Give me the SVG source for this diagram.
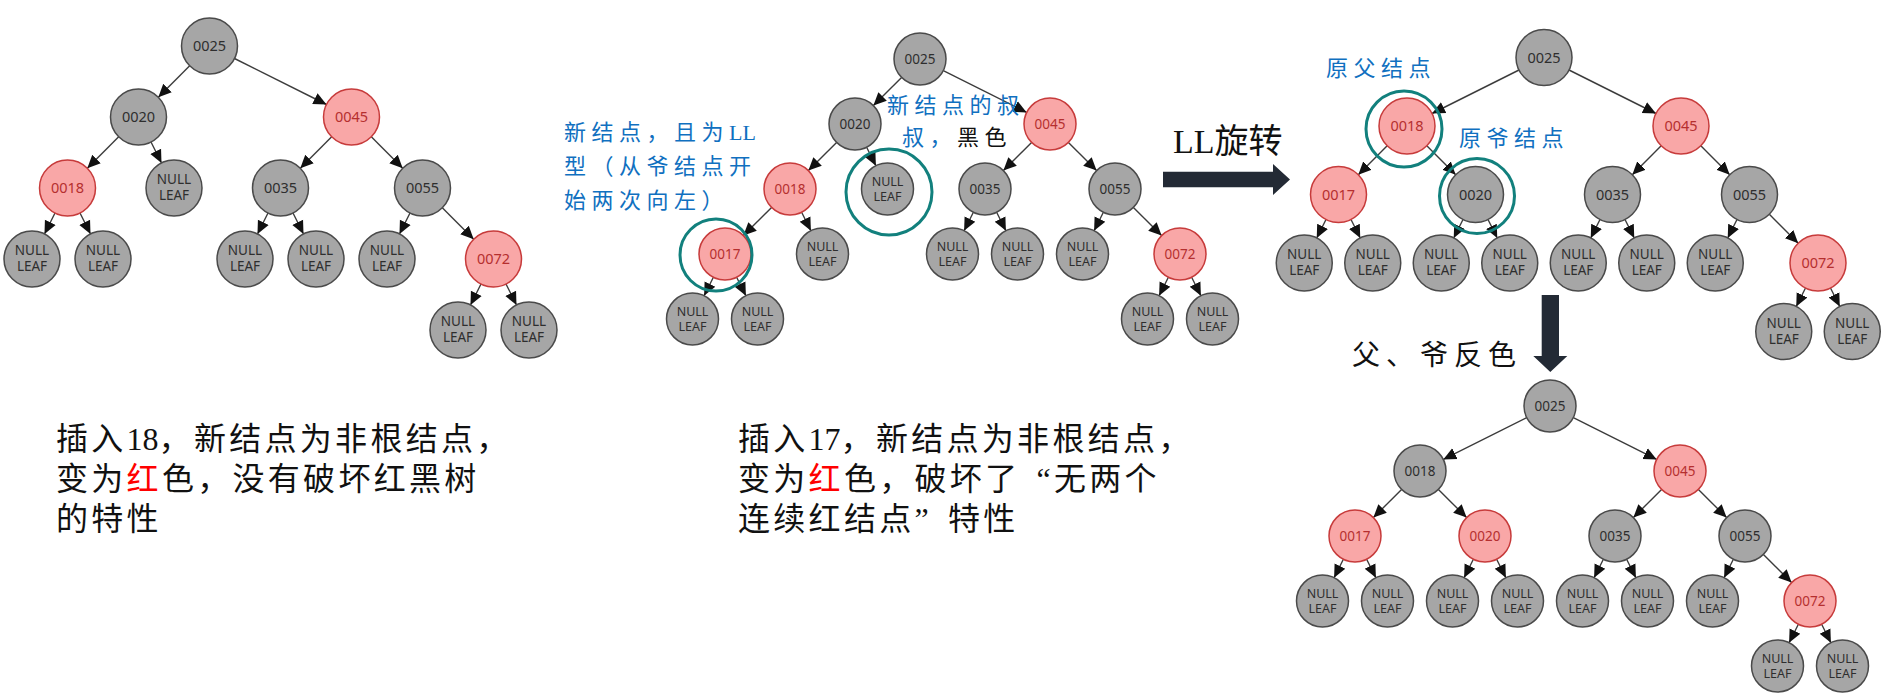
<svg xmlns="http://www.w3.org/2000/svg" width="1890" height="700" viewBox="0 0 1890 700">
<defs>
<style>
.edges line{stroke:#3c3c3c;stroke-width:1.4;marker-end:url(#ah)}
.nd circle{stroke-width:1.5}
.g circle{fill:#a6a6a6;stroke:#4a4a4a}
.r circle{fill:#f9a7a7;stroke:#c73b3b}
.nd text{font-family:"Noto Sans","DejaVu Sans",sans-serif;text-anchor:middle}
.g text{fill:#2e2e2e}
.r text{fill:#b52f2f}
.ta text{font-size:14.5px}
.ta text.lf{font-size:13.5px}
.tb text{font-size:13.5px}
.tb text.lf{font-size:12.5px}
.ring{fill:none;stroke:#12807d;stroke-width:3}
.ann{font-family:"Liberation Serif","Noto Sans CJK SC",serif;font-size:22px;letter-spacing:5.5px}
.blue{fill:#1070c0}
.body{font-family:"Liberation Serif","Noto Sans CJK SC",serif;font-size:32px;fill:#111}
.sp{letter-spacing:3.3px}
.bigarrow{fill:#232a35}
</style>
<marker id="ah" markerUnits="userSpaceOnUse" markerWidth="14" markerHeight="14" viewBox="0 0 14 14" refX="13" refY="7" orient="auto">
<path d="M0,1 L13,7 L0,13 z" fill="#111"/>
</marker>
</defs>
<rect width="1890" height="700" fill="#ffffff"/>

<g id="connectors" class="edges">
<!-- tree 1 -->
<line x1="189.7" y1="65.8" x2="158.3" y2="97.2"/>
<line x1="234.5" y1="58.5" x2="326.5" y2="104.5"/>
<line x1="118.7" y1="136.8" x2="87.3" y2="168.2"/>
<line x1="151" y1="142" x2="161.5" y2="163"/>
<line x1="331.7" y1="136.8" x2="300.3" y2="168.2"/>
<line x1="371.3" y1="136.8" x2="402.7" y2="168.2"/>
<line x1="55" y1="213" x2="44.5" y2="234"/>
<line x1="80" y1="213" x2="90.5" y2="234"/>
<line x1="268" y1="213" x2="257.5" y2="234"/>
<line x1="293" y1="213" x2="303.5" y2="234"/>
<line x1="410" y1="213" x2="399.5" y2="234"/>
<line x1="442.3" y1="207.8" x2="473.7" y2="239.2"/>
<line x1="481" y1="284" x2="470.5" y2="305"/>
<line x1="506" y1="284" x2="516.5" y2="305"/>
<!-- tree 2 -->
<line x1="901.6" y1="77.4" x2="873.4" y2="105.6"/>
<line x1="943.3" y1="70.6" x2="1026.7" y2="112.4"/>
<line x1="836.6" y1="142.4" x2="808.4" y2="170.6"/>
<line x1="866.6" y1="147.3" x2="875.9" y2="165.7"/>
<line x1="1031.6" y1="142.4" x2="1003.4" y2="170.6"/>
<line x1="1068.4" y1="142.4" x2="1096.6" y2="170.6"/>
<line x1="771.6" y1="207.4" x2="743.4" y2="235.6"/>
<line x1="801.6" y1="212.3" x2="810.9" y2="230.7"/>
<line x1="973.4" y1="212.3" x2="964.1" y2="230.7"/>
<line x1="996.6" y1="212.3" x2="1005.9" y2="230.7"/>
<line x1="1103.4" y1="212.3" x2="1094.1" y2="230.7"/>
<line x1="1133.4" y1="207.4" x2="1161.6" y2="235.6"/>
<line x1="713.4" y1="277.3" x2="704.1" y2="295.7"/>
<line x1="736.6" y1="277.3" x2="745.9" y2="295.7"/>
<line x1="1168.4" y1="277.3" x2="1159.1" y2="295.7"/>
<line x1="1191.6" y1="277.3" x2="1200.9" y2="295.7"/>
<!-- tree 3 -->
<line x1="1519" y1="70" x2="1432" y2="113.5"/>
<line x1="1569" y1="70" x2="1656" y2="113.5"/>
<line x1="1387.2" y1="145.8" x2="1358.3" y2="174.7"/>
<line x1="1426.8" y1="145.8" x2="1455.7" y2="174.7"/>
<line x1="1661.2" y1="145.8" x2="1632.3" y2="174.7"/>
<line x1="1700.8" y1="145.8" x2="1729.7" y2="174.7"/>
<line x1="1326" y1="219.5" x2="1316.75" y2="238"/>
<line x1="1351" y1="219.5" x2="1360.25" y2="238"/>
<line x1="1463" y1="219.5" x2="1453.75" y2="238"/>
<line x1="1488" y1="219.5" x2="1497.25" y2="238"/>
<line x1="1600" y1="219.5" x2="1590.75" y2="238"/>
<line x1="1625" y1="219.5" x2="1634.25" y2="238"/>
<line x1="1737" y1="219.5" x2="1727.75" y2="238"/>
<line x1="1769.3" y1="214.3" x2="1798.2" y2="243.2"/>
<line x1="1805.5" y1="288" x2="1796.25" y2="306.5"/>
<line x1="1830.5" y1="288" x2="1839.75" y2="306.5"/>
<!-- tree 4 -->
<line x1="1526.7" y1="417.6" x2="1443.3" y2="459.4"/>
<line x1="1573.3" y1="417.6" x2="1656.7" y2="459.4"/>
<line x1="1401.6" y1="489.4" x2="1373.4" y2="517.6"/>
<line x1="1438.4" y1="489.4" x2="1466.6" y2="517.6"/>
<line x1="1661.6" y1="489.4" x2="1633.4" y2="517.6"/>
<line x1="1698.4" y1="489.4" x2="1726.6" y2="517.6"/>
<line x1="1343.4" y1="559.3" x2="1334.1" y2="577.7"/>
<line x1="1366.6" y1="559.3" x2="1375.9" y2="577.7"/>
<line x1="1473.4" y1="559.3" x2="1464.1" y2="577.7"/>
<line x1="1496.6" y1="559.3" x2="1505.9" y2="577.7"/>
<line x1="1603.4" y1="559.3" x2="1594.1" y2="577.7"/>
<line x1="1626.6" y1="559.3" x2="1635.9" y2="577.7"/>
<line x1="1733.4" y1="559.3" x2="1724.1" y2="577.7"/>
<line x1="1763.4" y1="554.4" x2="1791.6" y2="582.6"/>
<line x1="1798.4" y1="624.3" x2="1789.1" y2="642.7"/>
<line x1="1821.6" y1="624.3" x2="1830.9" y2="642.7"/>
</g>

<g id="tree1" class="ta">
<g id="t1-0025" class="nd g"><circle cx="209.5" cy="46" r="28"/><text x="209.5" y="51">0025</text></g>
<g id="t1-0020" class="nd g"><circle cx="138.5" cy="117" r="28"/><text x="138.5" y="122">0020</text></g>
<g id="t1-0045" class="nd r"><circle cx="351.5" cy="117" r="28"/><text x="351.5" y="122">0045</text></g>
<g id="t1-0018" class="nd r"><circle cx="67.5" cy="188" r="28"/><text x="67.5" y="193">0018</text></g>
<g id="t1-leaf1" class="nd g"><circle cx="174" cy="188" r="28"/><text class="lf"><tspan x="174" y="184">NULL</tspan><tspan x="174" y="200">LEAF</tspan></text></g>
<g id="t1-0035" class="nd g"><circle cx="280.5" cy="188" r="28"/><text x="280.5" y="193">0035</text></g>
<g id="t1-0055" class="nd g"><circle cx="422.5" cy="188" r="28"/><text x="422.5" y="193">0055</text></g>
<g id="t1-leaf2" class="nd g"><circle cx="32" cy="259" r="28"/><text class="lf"><tspan x="32" y="255">NULL</tspan><tspan x="32" y="271">LEAF</tspan></text></g>
<g id="t1-leaf3" class="nd g"><circle cx="103" cy="259" r="28"/><text class="lf"><tspan x="103" y="255">NULL</tspan><tspan x="103" y="271">LEAF</tspan></text></g>
<g id="t1-leaf4" class="nd g"><circle cx="245" cy="259" r="28"/><text class="lf"><tspan x="245" y="255">NULL</tspan><tspan x="245" y="271">LEAF</tspan></text></g>
<g id="t1-leaf5" class="nd g"><circle cx="316" cy="259" r="28"/><text class="lf"><tspan x="316" y="255">NULL</tspan><tspan x="316" y="271">LEAF</tspan></text></g>
<g id="t1-leaf6" class="nd g"><circle cx="387" cy="259" r="28"/><text class="lf"><tspan x="387" y="255">NULL</tspan><tspan x="387" y="271">LEAF</tspan></text></g>
<g id="t1-0072" class="nd r"><circle cx="493.5" cy="259" r="28"/><text x="493.5" y="264">0072</text></g>
<g id="t1-leaf7" class="nd g"><circle cx="458" cy="330" r="28"/><text class="lf"><tspan x="458" y="326">NULL</tspan><tspan x="458" y="342">LEAF</tspan></text></g>
<g id="t1-leaf8" class="nd g"><circle cx="529" cy="330" r="28"/><text class="lf"><tspan x="529" y="326">NULL</tspan><tspan x="529" y="342">LEAF</tspan></text></g>
</g>

<g id="tree2" class="tb">
<g id="t2-0025" class="nd g"><circle cx="920" cy="59" r="26"/><text x="920" y="63.5">0025</text></g>
<g id="t2-0020" class="nd g"><circle cx="855" cy="124" r="26"/><text x="855" y="128.5">0020</text></g>
<g id="t2-0045" class="nd r"><circle cx="1050" cy="124" r="26"/><text x="1050" y="128.5">0045</text></g>
<g id="t2-0018" class="nd r"><circle cx="790" cy="189" r="26"/><text x="790" y="193.5">0018</text></g>
<g id="t2-leaf1" class="nd g"><circle cx="887.5" cy="189" r="26"/><text class="lf"><tspan x="887.5" y="185.5">NULL</tspan><tspan x="887.5" y="200.5">LEAF</tspan></text></g>
<g id="t2-0035" class="nd g"><circle cx="985" cy="189" r="26"/><text x="985" y="193.5">0035</text></g>
<g id="t2-0055" class="nd g"><circle cx="1115" cy="189" r="26"/><text x="1115" y="193.5">0055</text></g>
<g id="t2-0017" class="nd r"><circle cx="725" cy="254" r="26"/><text x="725" y="258.5">0017</text></g>
<g id="t2-leaf2" class="nd g"><circle cx="822.5" cy="254" r="26"/><text class="lf"><tspan x="822.5" y="250.5">NULL</tspan><tspan x="822.5" y="265.5">LEAF</tspan></text></g>
<g id="t2-leaf3" class="nd g"><circle cx="952.5" cy="254" r="26"/><text class="lf"><tspan x="952.5" y="250.5">NULL</tspan><tspan x="952.5" y="265.5">LEAF</tspan></text></g>
<g id="t2-leaf4" class="nd g"><circle cx="1017.5" cy="254" r="26"/><text class="lf"><tspan x="1017.5" y="250.5">NULL</tspan><tspan x="1017.5" y="265.5">LEAF</tspan></text></g>
<g id="t2-leaf5" class="nd g"><circle cx="1082.5" cy="254" r="26"/><text class="lf"><tspan x="1082.5" y="250.5">NULL</tspan><tspan x="1082.5" y="265.5">LEAF</tspan></text></g>
<g id="t2-0072" class="nd r"><circle cx="1180" cy="254" r="26"/><text x="1180" y="258.5">0072</text></g>
<g id="t2-leaf6" class="nd g"><circle cx="692.5" cy="319" r="26"/><text class="lf"><tspan x="692.5" y="315.5">NULL</tspan><tspan x="692.5" y="330.5">LEAF</tspan></text></g>
<g id="t2-leaf7" class="nd g"><circle cx="757.5" cy="319" r="26"/><text class="lf"><tspan x="757.5" y="315.5">NULL</tspan><tspan x="757.5" y="330.5">LEAF</tspan></text></g>
<g id="t2-leaf8" class="nd g"><circle cx="1147.5" cy="319" r="26"/><text class="lf"><tspan x="1147.5" y="315.5">NULL</tspan><tspan x="1147.5" y="330.5">LEAF</tspan></text></g>
<g id="t2-leaf9" class="nd g"><circle cx="1212.5" cy="319" r="26"/><text class="lf"><tspan x="1212.5" y="315.5">NULL</tspan><tspan x="1212.5" y="330.5">LEAF</tspan></text></g>
</g>

<g id="tree3" class="ta">
<g id="t3-0025" class="nd g"><circle cx="1544" cy="57.5" r="28"/><text x="1544" y="62.5">0025</text></g>
<g id="t3-0018" class="nd r"><circle cx="1407" cy="126" r="28"/><text x="1407" y="131">0018</text></g>
<g id="t3-0045" class="nd r"><circle cx="1681" cy="126" r="28"/><text x="1681" y="131">0045</text></g>
<g id="t3-0017" class="nd r"><circle cx="1338.5" cy="194.5" r="28"/><text x="1338.5" y="199.5">0017</text></g>
<g id="t3-0020" class="nd g"><circle cx="1475.5" cy="194.5" r="28"/><text x="1475.5" y="199.5">0020</text></g>
<g id="t3-0035" class="nd g"><circle cx="1612.5" cy="194.5" r="28"/><text x="1612.5" y="199.5">0035</text></g>
<g id="t3-0055" class="nd g"><circle cx="1749.5" cy="194.5" r="28"/><text x="1749.5" y="199.5">0055</text></g>
<g id="t3-leaf1" class="nd g"><circle cx="1304.25" cy="263" r="28"/><text class="lf"><tspan x="1304.25" y="259">NULL</tspan><tspan x="1304.25" y="275">LEAF</tspan></text></g>
<g id="t3-leaf2" class="nd g"><circle cx="1372.75" cy="263" r="28"/><text class="lf"><tspan x="1372.75" y="259">NULL</tspan><tspan x="1372.75" y="275">LEAF</tspan></text></g>
<g id="t3-leaf3" class="nd g"><circle cx="1441.25" cy="263" r="28"/><text class="lf"><tspan x="1441.25" y="259">NULL</tspan><tspan x="1441.25" y="275">LEAF</tspan></text></g>
<g id="t3-leaf4" class="nd g"><circle cx="1509.75" cy="263" r="28"/><text class="lf"><tspan x="1509.75" y="259">NULL</tspan><tspan x="1509.75" y="275">LEAF</tspan></text></g>
<g id="t3-leaf5" class="nd g"><circle cx="1578.25" cy="263" r="28"/><text class="lf"><tspan x="1578.25" y="259">NULL</tspan><tspan x="1578.25" y="275">LEAF</tspan></text></g>
<g id="t3-leaf6" class="nd g"><circle cx="1646.75" cy="263" r="28"/><text class="lf"><tspan x="1646.75" y="259">NULL</tspan><tspan x="1646.75" y="275">LEAF</tspan></text></g>
<g id="t3-leaf7" class="nd g"><circle cx="1715.25" cy="263" r="28"/><text class="lf"><tspan x="1715.25" y="259">NULL</tspan><tspan x="1715.25" y="275">LEAF</tspan></text></g>
<g id="t3-0072" class="nd r"><circle cx="1818" cy="263" r="28"/><text x="1818" y="268">0072</text></g>
<g id="t3-leaf8" class="nd g"><circle cx="1783.75" cy="331.5" r="28"/><text class="lf"><tspan x="1783.75" y="327.5">NULL</tspan><tspan x="1783.75" y="343.5">LEAF</tspan></text></g>
<g id="t3-leaf9" class="nd g"><circle cx="1852.25" cy="331.5" r="28"/><text class="lf"><tspan x="1852.25" y="327.5">NULL</tspan><tspan x="1852.25" y="343.5">LEAF</tspan></text></g>
</g>

<g id="tree4" class="tb">
<g id="t4-0025" class="nd g"><circle cx="1550" cy="406" r="26"/><text x="1550" y="410.5">0025</text></g>
<g id="t4-0018" class="nd g"><circle cx="1420" cy="471" r="26"/><text x="1420" y="475.5">0018</text></g>
<g id="t4-0045" class="nd r"><circle cx="1680" cy="471" r="26"/><text x="1680" y="475.5">0045</text></g>
<g id="t4-0017" class="nd r"><circle cx="1355" cy="536" r="26"/><text x="1355" y="540.5">0017</text></g>
<g id="t4-0020" class="nd r"><circle cx="1485" cy="536" r="26"/><text x="1485" y="540.5">0020</text></g>
<g id="t4-0035" class="nd g"><circle cx="1615" cy="536" r="26"/><text x="1615" y="540.5">0035</text></g>
<g id="t4-0055" class="nd g"><circle cx="1745" cy="536" r="26"/><text x="1745" y="540.5">0055</text></g>
<g id="t4-leaf1" class="nd g"><circle cx="1322.5" cy="601" r="26"/><text class="lf"><tspan x="1322.5" y="597.5">NULL</tspan><tspan x="1322.5" y="612.5">LEAF</tspan></text></g>
<g id="t4-leaf2" class="nd g"><circle cx="1387.5" cy="601" r="26"/><text class="lf"><tspan x="1387.5" y="597.5">NULL</tspan><tspan x="1387.5" y="612.5">LEAF</tspan></text></g>
<g id="t4-leaf3" class="nd g"><circle cx="1452.5" cy="601" r="26"/><text class="lf"><tspan x="1452.5" y="597.5">NULL</tspan><tspan x="1452.5" y="612.5">LEAF</tspan></text></g>
<g id="t4-leaf4" class="nd g"><circle cx="1517.5" cy="601" r="26"/><text class="lf"><tspan x="1517.5" y="597.5">NULL</tspan><tspan x="1517.5" y="612.5">LEAF</tspan></text></g>
<g id="t4-leaf5" class="nd g"><circle cx="1582.5" cy="601" r="26"/><text class="lf"><tspan x="1582.5" y="597.5">NULL</tspan><tspan x="1582.5" y="612.5">LEAF</tspan></text></g>
<g id="t4-leaf6" class="nd g"><circle cx="1647.5" cy="601" r="26"/><text class="lf"><tspan x="1647.5" y="597.5">NULL</tspan><tspan x="1647.5" y="612.5">LEAF</tspan></text></g>
<g id="t4-leaf7" class="nd g"><circle cx="1712.5" cy="601" r="26"/><text class="lf"><tspan x="1712.5" y="597.5">NULL</tspan><tspan x="1712.5" y="612.5">LEAF</tspan></text></g>
<g id="t4-0072" class="nd r"><circle cx="1810" cy="601" r="26"/><text x="1810" y="605.5">0072</text></g>
<g id="t4-leaf8" class="nd g"><circle cx="1777.5" cy="666" r="26"/><text class="lf"><tspan x="1777.5" y="662.5">NULL</tspan><tspan x="1777.5" y="677.5">LEAF</tspan></text></g>
<g id="t4-leaf9" class="nd g"><circle cx="1842.5" cy="666" r="26"/><text class="lf"><tspan x="1842.5" y="662.5">NULL</tspan><tspan x="1842.5" y="677.5">LEAF</tspan></text></g>
</g>

<g id="highlights">
<circle class="ring" cx="889" cy="192" r="43"/>
<circle class="ring" cx="716" cy="255" r="36"/>
<circle class="ring" cx="1404" cy="129" r="38"/>
<circle class="ring" cx="1477" cy="196" r="37.5"/>
</g>

<g id="big-arrows">
<polygon class="bigarrow" points="1163,171.7 1273,171.7 1273,164 1290,179.5 1273,195 1273,187.3 1163,187.3"/>
<polygon class="bigarrow" points="1541.7,295 1559,295 1559,356 1567.3,356 1550.3,372 1533.3,356 1541.7,356"/>
</g>

<g id="annotations">
<text class="ann blue" x="564" y="140">新结点，且为<tspan letter-spacing="0">LL</tspan></text>
<text class="ann blue" x="564" y="174">型（从爷结点开</text>
<text class="ann blue" x="564" y="208">始两次向左）</text>
<text class="ann blue" x="887" y="113">新结点的叔</text>
<text class="ann" x="902" y="145"><tspan fill="#1070c0">叔，</tspan><tspan fill="#111">黑色</tspan></text>
<text x="1173" y="153" font-family="Liberation Serif, Noto Sans CJK SC, serif" font-size="34" fill="#111">LL旋转</text>
<text class="ann blue" x="1326" y="76">原父结点</text>
<text class="ann blue" x="1459" y="146">原爷结点</text>
<text x="1352" y="365" font-family="Liberation Serif, Noto Sans CJK SC, serif" font-size="28" letter-spacing="6" fill="#111">父、爷反色</text>
</g>

<g id="captions">
<text class="body sp" x="56" y="450">插入<tspan letter-spacing="0">18</tspan>，新结点为非根结点，</text>
<text class="body sp" x="56" y="490">变为<tspan fill="#ff0000">红</tspan>色，没有破坏红黑树</text>
<text class="body sp" x="56" y="530">的特性</text>
<text class="body sp" x="738" y="450">插入<tspan letter-spacing="0">17</tspan>，新结点为非根结点，</text>
<text class="body sp" x="738" y="490">变为<tspan fill="#ff0000">红</tspan>色，破坏了<tspan dx="16">“</tspan>无两个</text>
<text class="body sp" x="738" y="530">连续红结点”<tspan dx="16">特性</tspan></text>
</g>
</svg>
